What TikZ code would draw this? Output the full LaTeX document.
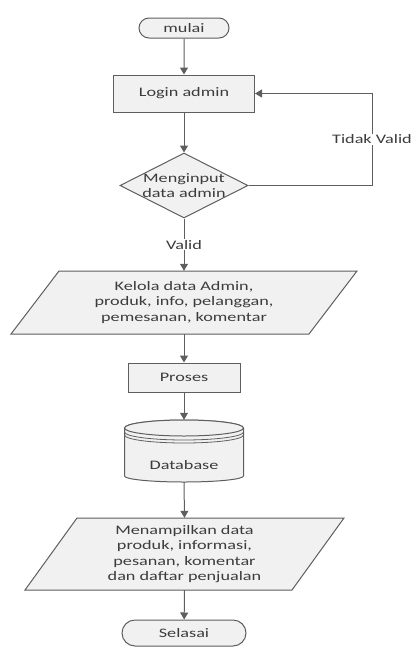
\documentclass[tikz,border=0pt]{standalone}
\usepackage{fontspec}
\setmainfont{Carlito}[FakeStretch=1.4]
\usetikzlibrary{arrows.meta,shapes.geometric,shapes.misc}
\definecolor{ln}{HTML}{5E5E5E}
\definecolor{tx}{HTML}{3C3C3C}
\definecolor{bx}{HTML}{F1F1F1}
\tikzset{
  every node/.style={font=\fontsize{13}{15.5}\selectfont, text=tx},
  term/.style={rounded rectangle, draw=ln, line width=1pt, fill=bx, inner sep=0pt},
  proc/.style={rectangle, draw=ln, line width=1pt, fill=bx, inner sep=0pt},
  dec/.style={diamond, draw=ln, line width=1pt, fill=bx, inner ysep=0pt, inner xsep=-7pt, shape aspect=2},
  ghost/.style={rectangle, inner sep=0pt, align=center},
  flow/.style={draw=ln, line width=1pt, -{Triangle[width=8pt,length=7pt]}},
  lbl/.style={fill=white, inner sep=1pt},
  shp/.style={draw=ln, line width=1pt, fill=bx}
}
\begin{document}
\begin{tikzpicture}[x=1pt,y=-1pt]
\useasboundingbox (0,0) rectangle (416,648);
% shapes
\node[term, minimum width=90pt, minimum height=20pt] (mulai) at (184,28) {mulai};
\node[proc, minimum width=141pt, minimum height=37pt] (login) at (184,93.5) {Login admin};
\node[dec, minimum width=128pt, minimum height=65pt, align=center] (cek) at (184,185.5) {Menginput\\data admin};
% parallelogram 1
\draw[shp] (59,271) -- (357,271) -- (309,334) -- (11,334) -- cycle;
\node[ghost, minimum height=63pt] (kelola) at (184,302.5) {Kelola data Admin,\\produk, info, pelanggan,\\pemesanan, komentar};
\node[proc, minimum width=112pt, minimum height=29pt] (proses) at (184,377.5) {Proses};
% database
\draw[shp] (124.5,428) -- (124.5,476) arc[start angle=180, end angle=360, x radius=59.5pt, y radius=6pt]
  -- (243.5,428) arc[start angle=0, end angle=180, x radius=59.5pt, y radius=8pt] -- cycle;
\draw[shp] (184,428) ellipse[x radius=59.5pt, y radius=8pt];
\draw[draw=ln, line width=0.8pt] (124.5,432) arc[start angle=180, end angle=360, x radius=59.5pt, y radius=8pt];
\draw[draw=ln, line width=0.8pt] (124.5,435) arc[start angle=180, end angle=360, x radius=59.5pt, y radius=8pt];
\node[ghost, minimum width=119pt, minimum height=62pt] (db) at (184,451) {};
\node[ghost] (dbtext) at (184,465) {Database};
% parallelogram 2
\draw[shp] (77,518) -- (344,518) -- (292,590) -- (25,590) -- cycle;
\node[ghost, minimum height=72pt] (tampil) at (184.5,554) {Menampilkan data\\produk, informasi,\\pesanan, komentar\\dan daftar penjualan};
\node[term, minimum width=124pt, minimum height=26pt] (selesai) at (184,633) {Selasai};
% connectors
\draw[flow] (mulai) -- (login);
\draw[flow] (login) -- (cek);
\draw[flow] (cek) -- node[lbl] (valid) {Valid} (kelola.north);
\draw[flow] (kelola.south) -- (proses);
\draw[flow] (proses) -- (db.north);
\draw[flow] (db.south) -- (tampil.north);
\draw[flow] (tampil.south) -- (selesai);
\coordinate (c1) at (372,185.5);
\coordinate (c2) at (372,93.5);
\draw[flow] (cek.east) -- (c1) -- node[lbl, pos=0.5] (tidak) {Tidak Valid} (c2) -- (login.east);
\end{tikzpicture}
\end{document}
